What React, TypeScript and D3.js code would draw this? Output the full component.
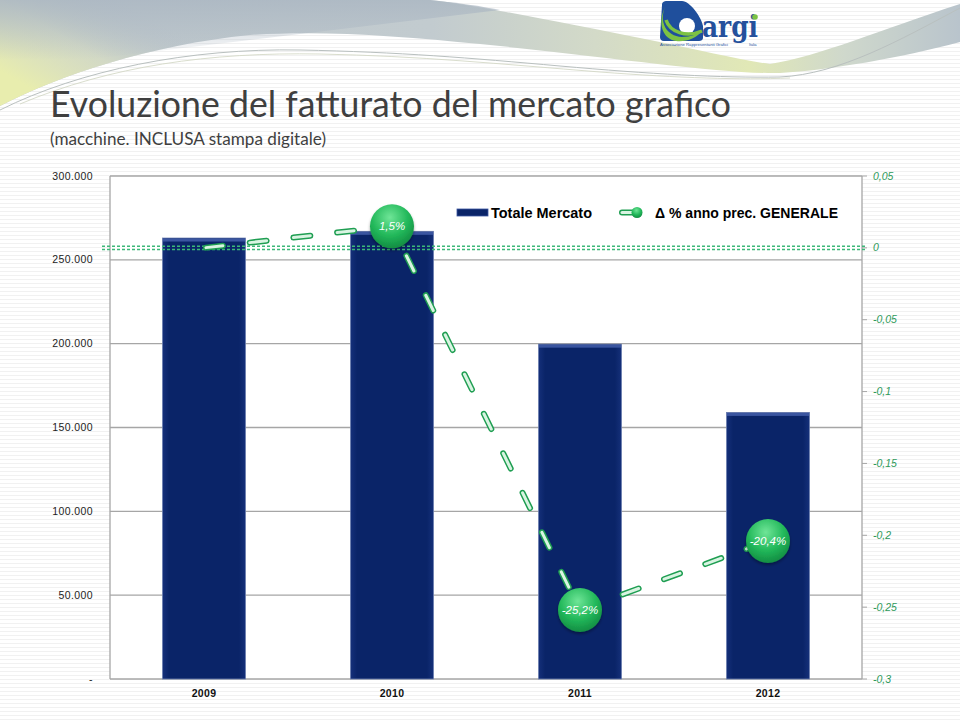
import React from "react";
import * as d3 from "d3";

const years = ["2009", "2010", "2011", "2012"];
const totaleMercato = [263000, 267000, 199700, 159000];
const deltaPct = [0, 0.015, -0.252, -0.204];
const deltaLabels = ["", "1,5%", "-25,2%", "-20,4%"];
const leftTicks = [0, 50000, 100000, 150000, 200000, 250000, 300000];
const leftTickLabels = ["-", "50.000", "100.000", "150.000", "200.000", "250.000", "300.000"];
const rightTicks = [0.05, 0, -0.05, -0.1, -0.15, -0.2, -0.25, -0.3];
const rightTickLabels = ["0,05", "0", "-0,05", "-0,1", "-0,15", "-0,2", "-0,25", "-0,3"];

const W = 960, H = 720;
const PL = 110, PR = 862, PT = 176, PB = 679;
const FONT = "'Liberation Sans', Arial, sans-serif";

export default function App() {
  const x = d3.scaleBand<string>().domain(years).range([PL, PR]).paddingInner(0.558).paddingOuter(0.279);
  const yL = d3.scaleLinear().domain([0, 300000]).range([PB, PT]);
  const yR = d3.scaleLinear().domain([-0.3, 0.05]).range([PB, PT]);
  const cx = (y: string) => (x(y) as number) + x.bandwidth() / 2;
  const pts: [number, number][] = years.map((y, i) => [cx(y), yR(deltaPct[i])]);
  const line = d3.line().curve(d3.curveLinear)(pts) as string;
  const y0 = yR(0);

  return (
    <svg width={W} height={H} style={{ position: "absolute", left: 0, top: 0, display: "block" }}>
      <defs>
        <pattern id="stripes" width="4" height="4" patternUnits="userSpaceOnUse">
          <rect width="4" height="4" fill="#ffffff" />
          <rect y="3" width="4" height="1" fill="#f1f1f1" />
        </pattern>
        <linearGradient id="bandH" gradientUnits="userSpaceOnUse" x1="0" y1="0" x2="960" y2="0">
          <stop offset="0" stopColor="#bfc8cc" />
          <stop offset="0.45" stopColor="#c2cbcf" />
          <stop offset="0.62" stopColor="#d3dac8" />
          <stop offset="0.78" stopColor="#e1e8b6" />
          <stop offset="0.88" stopColor="#cfd8cc" />
          <stop offset="1" stopColor="#b9c4cc" />
        </linearGradient>
        <linearGradient id="bandLeft" gradientUnits="userSpaceOnUse" x1="120" y1="0" x2="60" y2="105">
          <stop offset="0" stopColor="#b3bec8" stopOpacity="0" />
          <stop offset="0.5" stopColor="#dfe4c0" stopOpacity="0.6" />
          <stop offset="1" stopColor="#e8edae" stopOpacity="1" />
        </linearGradient>
        <linearGradient id="bandTop" gradientUnits="userSpaceOnUse" x1="0" y1="0" x2="0" y2="60">
          <stop offset="0" stopColor="#aab6c2" stopOpacity="0.8" />
          <stop offset="1" stopColor="#aab6c2" stopOpacity="0" />
        </linearGradient>
        <linearGradient id="barGrad" x1="0" y1="0" x2="1" y2="0">
          <stop offset="0" stopColor="#15307a" />
          <stop offset="0.08" stopColor="#0a2468" />
          <stop offset="0.92" stopColor="#0a2468" />
          <stop offset="1" stopColor="#15307a" />
        </linearGradient>
        <radialGradient id="bubble" cx="0.45" cy="0.3" r="0.75">
          <stop offset="0" stopColor="#6fe597" />
          <stop offset="0.55" stopColor="#22b85a" />
          <stop offset="1" stopColor="#10853e" />
        </radialGradient>
        <filter id="shadow" x="-30%" y="-30%" width="160%" height="170%">
          <feDropShadow dx="0" dy="2" stdDeviation="1.5" floodColor="#000" floodOpacity="0.35" />
        </filter>
      </defs>

      {/* background */}
      <rect width={W} height={H} fill="url(#stripes)" />

      {/* top decorative swoosh */}
      <path d="M0,0 L430,0 C470,4 560,22 650,40 C700,50 740,60 770,64 C820,56 880,30 960,4 L960,42 C900,58 830,70 780,73 C720,74 620,58 480,44 C400,36 320,30 250,35 C150,45 60,75 0,106 Z" fill="url(#bandH)" />
      <path d="M0,0 L430,0 C470,4 560,22 650,40 C700,50 740,60 770,64 C820,56 880,30 960,4 L960,42 C900,58 830,70 780,73 C720,74 620,58 480,44 C400,36 320,30 250,35 C150,45 60,75 0,106 Z" fill="url(#bandLeft)" />
      <path d="M0,0 L430,0 C460,3 480,6 500,10 L0,70 Z" fill="url(#bandTop)" />
      <path d="M0,110 C80,70 190,48 300,50 C400,52 470,58 560,66 C650,74 720,78 780,77 C840,74 900,40 960,8" fill="none" stroke="#b9c0bf" strokeWidth="1" />
      <path d="M20,104 C110,66 210,52 320,54 C420,56 500,64 600,72 C680,78 740,80 790,78" fill="none" stroke="#cfd4c0" strokeWidth="0.8" />

      {/* logo */}
      <g>
        <path d="M662,5 C662,2 664,1 667,1 L682,1 C690,1 702,18 703,26 L703,38 C703,40 701,41 699,41 L664,41 C661,41 660,39 660,37 Z" fill="#1f4f9c" />
        <circle cx="687" cy="26" r="8" fill="#ffffff" />
        <path d="M665,7 C659,22 666,36 682,37 C691,37 698,34 703,30 C696,39 686,42 676,41 C663,39 657,24 665,7 Z" fill="#7cc243" />
        <path d="M666,20 C670,32 686,38 702,31" fill="none" stroke="#7cc243" strokeWidth="3.5" />
        <text x="702" y="37" fontFamily="'DejaVu Serif', serif" fontWeight="bold" fontSize="30" fill="#24509c" textLength="56" lengthAdjust="spacingAndGlyphs">argi</text>
        <circle cx="755" cy="17" r="2.8" fill="#7cc243" />
        <text x="660" y="46" fontFamily={FONT} fontSize="3.6" fill="#24509c" textLength="68" lengthAdjust="spacingAndGlyphs">Associazione Rappresentanti Grafici</text>
        <text x="749" y="46" fontFamily={FONT} fontSize="3.6" fill="#24509c">Italia</text>
      </g>

      {/* title */}
      <text x={50} y={117} fontFamily="Lato, 'Open Sans', sans-serif" fontSize="36" fill="#3f3f3f" textLength="681" lengthAdjust="spacingAndGlyphs">Evoluzione del fatturato del mercato grafico</text>
      <text x={50} y={145} fontFamily="Lato, 'Open Sans', sans-serif" fontSize="18" fill="#3f3f3f" textLength="276" lengthAdjust="spacingAndGlyphs">(macchine. INCLUSA stampa digitale)</text>

      {/* plot area */}
      <rect x={PL} y={PT} width={PR - PL} height={PB - PT} fill="#ffffff" />
      {leftTicks.map((t) => (
        <line key={t} x1={PL} x2={PR} y1={yL(t)} y2={yL(t)} stroke="#a6a6a6" strokeWidth="1.3" />
      ))}
      <line x1={PL} x2={PL} y1={PT} y2={PB} stroke="#a6a6a6" strokeWidth="1.3" />
      <line x1={PR} x2={PR} y1={PT} y2={PB} stroke="#a6a6a6" strokeWidth="1.3" />
      {rightTicks.map((t) => (
        <line key={t} x1={PR} x2={PR + 5} y1={yR(t)} y2={yR(t)} stroke="#a6a6a6" strokeWidth="1" />
      ))}

      {/* left axis labels */}
      {leftTicks.map((t, i) => (
        <text key={t} x={93} y={yL(t) + 3.5} textAnchor="end" fontFamily={FONT} fontSize="10.5" letterSpacing="0.4" fill="#222">{leftTickLabels[i]}</text>
      ))}
      {/* right axis labels */}
      {rightTicks.map((t, i) => (
        <text key={t} x={873} y={yR(t) + 3.5} fontFamily={FONT} fontSize="10.5" fontStyle="italic" fill="#2e9a5a">{rightTickLabels[i]}</text>
      ))}
      {/* x labels */}
      {years.map((y) => (
        <text key={y} x={cx(y)} y={697} textAnchor="middle" fontFamily={FONT} fontSize="10.5" fontWeight="bold" letterSpacing="0.3" fill="#111">{y}</text>
      ))}

      {/* bars */}
      {years.map((y, i) => (
        <g key={y}>
          <rect x={x(y)} y={yL(totaleMercato[i])} width={x.bandwidth()} height={PB - yL(totaleMercato[i])} fill="url(#barGrad)" stroke="#6d7fb0" strokeWidth="0.8" />
          <rect x={(x(y) as number) + 0.5} y={yL(totaleMercato[i]) + 0.5} width={x.bandwidth() - 1} height={3} fill="#3a55a0" />
        </g>
      ))}

      {/* zero reference double dotted line */}
      <line x1={102} x2={PR + 4} y1={y0 - 1.6} y2={y0 - 1.6} stroke="#3cb878" strokeWidth="1.4" strokeDasharray="3 2" />
      <line x1={102} x2={PR + 4} y1={y0 + 1.6} y2={y0 + 1.6} stroke="#3cb878" strokeWidth="1.4" strokeDasharray="3 2" />

      {/* delta line */}
      <path d={line} fill="none" stroke="#1f9e52" strokeWidth="6" strokeDasharray="17 27" strokeLinecap="round" strokeDashoffset="-2" />
      <path d={line} fill="none" stroke="#d9f4e2" strokeWidth="3" strokeDasharray="17 27" strokeLinecap="round" strokeDashoffset="-2" />

      {/* bubbles */}
      {years.map((y, i) =>
        deltaLabels[i] ? (
          <g key={y}>
            <circle cx={pts[i][0]} cy={pts[i][1]} r={22} fill="url(#bubble)" filter="url(#shadow)" />
            <text x={pts[i][0]} y={pts[i][1] + 4} textAnchor="middle" fontFamily={FONT} fontSize="11.5" fontStyle="italic" fill="#ffffff">{deltaLabels[i]}</text>
          </g>
        ) : null
      )}

      {/* legend */}
      <rect x={457} y={209} width={31} height={7} fill="#0a2468" stroke="#3a55a0" strokeWidth="0.8" />
      <text x={491} y={217.5} fontFamily={FONT} fontSize="14" fontWeight="bold" fill="#000" textLength="101" lengthAdjust="spacingAndGlyphs">Totale Mercato</text>
      <line x1={622} x2={636} y1={212.5} y2={212.5} stroke="#1f9e52" strokeWidth="6" strokeLinecap="round" />
      <line x1={622} x2={636} y1={212.5} y2={212.5} stroke="#d9f4e2" strokeWidth="3" strokeLinecap="round" />
      <circle cx={637} cy={212.5} r={5.5} fill="url(#bubble)" />
      <text x={655} y={218} fontFamily={FONT} fontSize="14" fontWeight="bold" fill="#000" textLength="183" lengthAdjust="spacingAndGlyphs">Δ % anno prec. GENERALE</text>
    </svg>
  );
}
